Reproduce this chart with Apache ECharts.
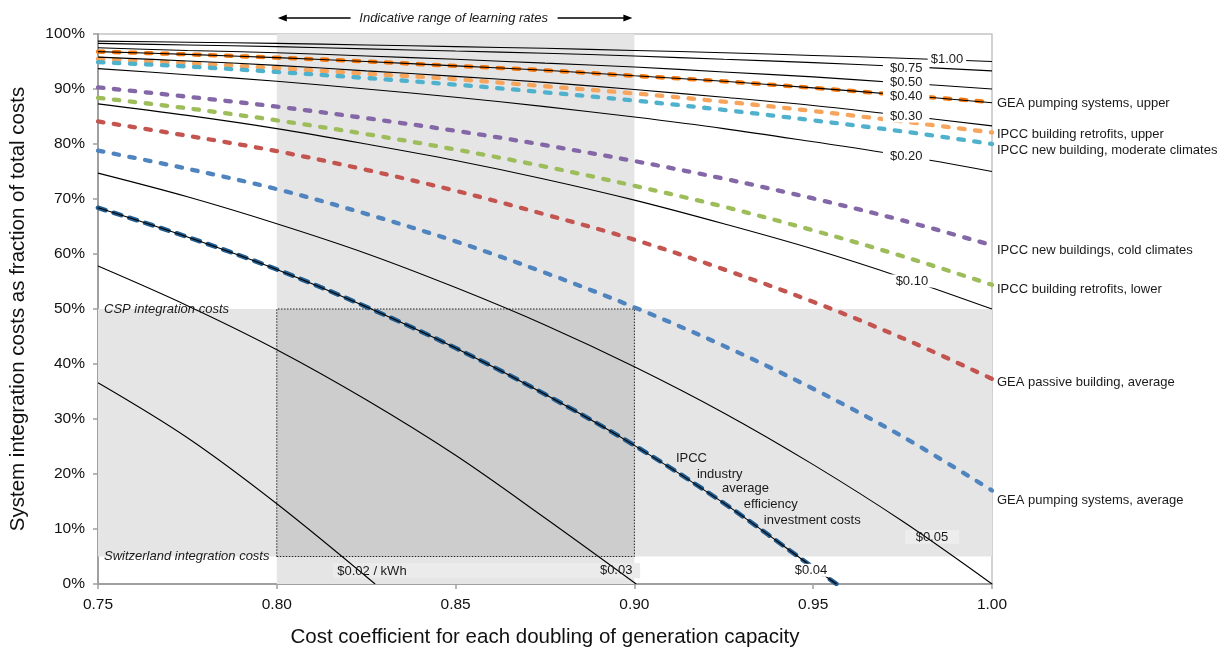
<!DOCTYPE html>
<html><head><meta charset="utf-8">
<script src="https://cdn.jsdelivr.net/npm/echarts@6/dist/echarts.min.js"></script>
<style>html,body{margin:0;padding:0;background:#fff}#c{width:1229px;height:654px}</style>
</head><body><div id="c"></div>
<script>
const FONT = "'Liberation Sans', Arial, Helvetica, sans-serif";

// ---- data ----
const xs = [0.75, 0.775, 0.80, 0.825, 0.85, 0.875, 0.90, 0.925, 0.95, 0.975, 1.00];

// black cost curves ($ per kWh)
const c100 = [98.7, 98.5, 98.3, 98.0, 97.7, 97.4, 97.0, 96.6, 96.1, 95.6, 95.0];
const c075 = [98.3, 98.0, 97.7, 97.3, 96.9, 96.5, 96.0, 95.4, 94.8, 94.1, 93.3];
const c050 = [97.5, 97.0, 96.6, 96.0, 95.4, 94.7, 94.0, 93.1, 92.2, 91.1, 90.0];
const c040 = [96.8, 96.3, 95.7, 95.0, 94.2, 93.4, 92.4, 91.4, 90.2, 88.9, 87.5];
const c030 = [95.8, 95.1, 94.3, 93.3, 92.3, 91.2, 89.9, 88.5, 87.0, 85.2, 83.3];
const c020 = [93.7, 92.6, 91.4, 90.0, 88.5, 86.8, 84.9, 82.8, 80.4, 77.9, 75.0];
const c010 = [87.3, 85.2, 82.8, 80.0, 77.0, 73.6, 69.8, 65.5, 60.9, 55.7, 50.0];
const c005 = [74.7, 70.4, 65.5, 60.1, 53.9, 47.1, 39.5, 31.1, 21.7, 11.4, 0];
const xs004 = [0.75, 0.775, 0.80, 0.825, 0.85, 0.875, 0.90, 0.925, 0.95, 0.9565];
const c004 = [68.4, 63.1, 57.2, 50.4, 42.9, 34.5, 25.2, 14.7, 3.0, 0];
const xs003 = [0.75, 0.775, 0.80, 0.825, 0.85, 0.875, 0.9005];
const c003 = [57.8, 50.6, 42.6, 33.5, 23.4, 12.0, 0];
const xs002 = [0.75, 0.775, 0.80, 0.8275];
const c002 = [36.6, 26.6, 14.6, 0];

// coloured cases
const geaPumpUpper   = [96.8, 96.3, 95.7, 95.0, 94.2, 93.4, 92.4, 91.4, 90.2, 88.9, 87.6];
const ipccRetroUpper = [95.5, 94.7, 93.8, 92.8, 91.8, 90.5, 89.2, 87.7, 86.0, 84.1, 82.1];
const ipccNewModerate= [94.9, 94.1, 93.1, 92.0, 90.8, 89.4, 87.9, 86.2, 84.3, 82.3, 80.0];
const ipccNewCold    = [90.3, 88.6, 86.8, 84.7, 82.4, 79.8, 76.9, 73.7, 70.1, 66.1, 61.6];
const ipccRetroLower = [88.4, 86.5, 84.3, 81.8, 79.0, 75.9, 72.4, 68.6, 64.3, 59.6, 54.4];
const geaPassive     = [84.1, 81.5, 78.7, 75.3, 71.5, 67.2, 62.6, 57.2, 51.3, 44.7, 37.3];
const geaPumpAvg     = [78.8, 75.5, 71.8, 67.3, 62.3, 56.6, 50.3, 43.3, 35.5, 26.8, 17.0];
const ipccIndustry   = c004;

const learnRange = [0.80, 0.90];
const integRange = [5, 50];

const blackNames = ['$1.00','$0.75','$0.50','$0.40','$0.30','$0.20','$0.10','$0.05','$0.04','$0.03','$0.02'];
const colouredNames = ['GEA pumping systems, upper','IPCC building retrofits, upper','IPCC new building, moderate climates',
  'IPCC new buildings, cold climates','IPCC building retrofits, lower','GEA passive building, average','GEA pumping systems, average'];
const industryLines = ['IPCC','industry','average','efficiency','investment costs'];

// ---- build ----
function pairs(x, y){ return x.map((v,i)=>[v, y[i]]); }

const blackData = [
  pairs(xs,c100), pairs(xs,c075), pairs(xs,c050), pairs(xs,c040), pairs(xs,c030),
  pairs(xs,c020), pairs(xs,c010), pairs(xs,c005), pairs(xs004,c004), pairs(xs003,c003), pairs(xs002,c002)
];
const colouredData = [geaPumpUpper, ipccRetroUpper, ipccNewModerate, ipccNewCold, ipccRetroLower, geaPassive, geaPumpAvg];
const colouredColors = ['#f6780f','#f7a45c','#4fb1cc','#8467a6','#9dbd5b','#c4544f','#4f84bf'];
const colouredLabelDy = [1, 1.5, 6, 5.5, 5, 4, 9.5];
const SMOOTH = 0.35;

const series = [];
series.push({
  type:'line', name:'bg', data:[[0.75,0],[1.0,0]], symbol:'none', silent:true,
  lineStyle:{opacity:0}, z:1,
  markArea:{silent:true, data:[
    [{xAxis:learnRange[0], yAxis:0, itemStyle:{color:'#e5e5e5'}},{xAxis:learnRange[1], yAxis:100}],
    [{xAxis:0.75, yAxis:integRange[0], itemStyle:{color:'#e5e5e5'}},{xAxis:1.0, yAxis:integRange[1]}],
    [{xAxis:learnRange[0], yAxis:integRange[0], itemStyle:{color:'#cdcdcd', borderColor:'#222', borderWidth:1, borderType:[1.5,1.5]}},{xAxis:learnRange[1], yAxis:integRange[1]}],
    [{xAxis:0.9757, yAxis:9.8, itemStyle:{color:'#ededed'}},{xAxis:0.9908, yAxis:7.3}]
  ]}
});
colouredData.forEach((vals,i)=>{
  series.push({type:'line', name:colouredNames[i], data:pairs(xs,vals), symbol:'none', smooth:SMOOTH,
    z:2, lineStyle:{color:colouredColors[i], width:4.3, type:[5.5,10.5], cap:'round'}});
});
series.push({type:'line', name:'IPCC industry average efficiency investment costs', data:pairs(xs004,ipccIndustry),
  symbol:'none', smooth:SMOOTH, z:2,
  lineStyle:{color:'#215c8f', width:4.6, type:[8,8.5], cap:'round'}});
blackData.forEach((d,i)=>{
  series.push({type:'line', name:blackNames[i], data:d, symbol:'none', smooth:SMOOTH, z:3,
    lineStyle:{color:'#000', width:1.1}});
});
series.push({
  type:'line', name:'strip', data:[[0.75,0],[1.0,0]], symbol:'none', silent:true, lineStyle:{opacity:0}, z:4,
  markArea:{silent:true, data:[[{xAxis:0.8157, yAxis:3.8, itemStyle:{color:'#ebebeb'}},{xAxis:0.9016, yAxis:1.1}]]}
});

const chart = echarts.init(document.getElementById('c'));
chart.setOption({
  animation:false,
  textStyle:{fontFamily:FONT},
  grid:{left:98, right:237, top:34, bottom:70, show:true, borderColor:'#c4c4c4', borderWidth:1.5},
  xAxis:{type:'value', min:0.75, max:1.0, interval:0.05,
    name:'Cost coefficient for each doubling of generation capacity', nameLocation:'middle', nameGap:43,
    nameTextStyle:{fontSize:20.5, color:'#111', fontFamily:FONT},
    axisLine:{lineStyle:{color:'#a0a0a0', width:2}},
    axisTick:{show:true, length:5, lineStyle:{color:'#a0a0a0', width:1.5}},
    axisLabel:{fontSize:15.5, color:'#111', margin:13, formatter:v=>v.toFixed(2)},
    splitLine:{show:false}},
  yAxis:{type:'value', min:0, max:100, interval:10,
    name:'System integration costs as fraction of total costs', nameLocation:'middle', nameGap:69,
    nameTextStyle:{fontSize:20.5, color:'#111', fontFamily:FONT},
    axisLine:{show:true, lineStyle:{color:'#a0a0a0', width:2}},
    axisTick:{show:true, length:5, lineStyle:{color:'#a0a0a0', width:1.5}},
    axisLabel:{fontSize:15.5, color:'#111', margin:13, formatter:'{value}%'},
    splitLine:{show:false}},
  series:series
});

function px(x,y){ return chart.convertToPixel({gridIndex:0},[x,y]); }
const g = [];
const txt = (text, p, opt) => g.push(Object.assign({type:'text', x:p[0], y:p[1], z:100,
  style:Object.assign({text:text, font:'13px '+FONT, fill:'#1a1a1a', textAlign:'center', textVerticalAlign:'middle'}, opt||{})}));

const blackLabelPos = [[0.9874,95.3],[0.976,93.8],[0.976,91.2],[0.976,88.7],[0.976,85.1],[0.976,77.8],[0.9776,55.1]];
blackLabelPos.forEach((p,i)=>{
  txt(blackNames[i], px(p[0],p[1]), {backgroundColor:'#fff', padding: i===0?[0,3]:[0,7]});
});
txt('$0.05', px(0.9832,8.4));
txt('$0.04', px(0.9494,2.5), {backgroundColor:'#fff', padding:[0,3]});
txt('$0.03', px(0.8949,2.4));
txt('$0.02 / kWh', px(0.8266,2.2));

colouredData.forEach((vals,i)=>{
  const p = px(1.0, vals[vals.length-1]);
  txt(colouredNames[i], [p[0]+5, p[1]+colouredLabelDy[i]], {textAlign:'left'});
});
const industryPos = [[0.9116,22.9],[0.9175,20.0],[0.9245,17.3],[0.9306,14.4],[0.9362,11.6]];
industryLines.forEach((t,i)=>{ txt(t, px(industryPos[i][0], industryPos[i][1]), {textAlign:'left'}); });

const pc = px(0.75, integRange[1]);
txt('CSP integration costs', [pc[0]+6, pc[1]], {textAlign:'left', font:'italic 13px '+FONT});
const ps = px(0.75, integRange[0]);
txt('Switzerland integration costs', [ps[0]+6, ps[1]], {textAlign:'left', font:'italic 13px '+FONT});

const pl = px(learnRange[0], 100), pr = px(learnRange[1], 100);
const ay = 18, mid = (pl[0]+pr[0])/2;
txt('Indicative range of learning rates', [mid-2, ay], {font:'italic 13px '+FONT});
const lx0 = pl[0]+1, lx1 = mid-105, rx0 = mid+102, rx1 = pr[0]-2;
g.push({type:'line', z:100, shape:{x1:lx0+6, y1:ay, x2:lx1, y2:ay}, style:{stroke:'#000', lineWidth:1.5}});
g.push({type:'polygon', z:100, shape:{points:[[lx0,ay],[lx0+9,ay-3.5],[lx0+9,ay+3.5]]}, style:{fill:'#000'}});
g.push({type:'line', z:100, shape:{x1:rx0, y1:ay, x2:rx1-6, y2:ay}, style:{stroke:'#000', lineWidth:1.5}});
g.push({type:'polygon', z:100, shape:{points:[[rx1,ay],[rx1-9,ay-3.5],[rx1-9,ay+3.5]]}, style:{fill:'#000'}});

chart.setOption({graphic:g});
</script></body></html>
